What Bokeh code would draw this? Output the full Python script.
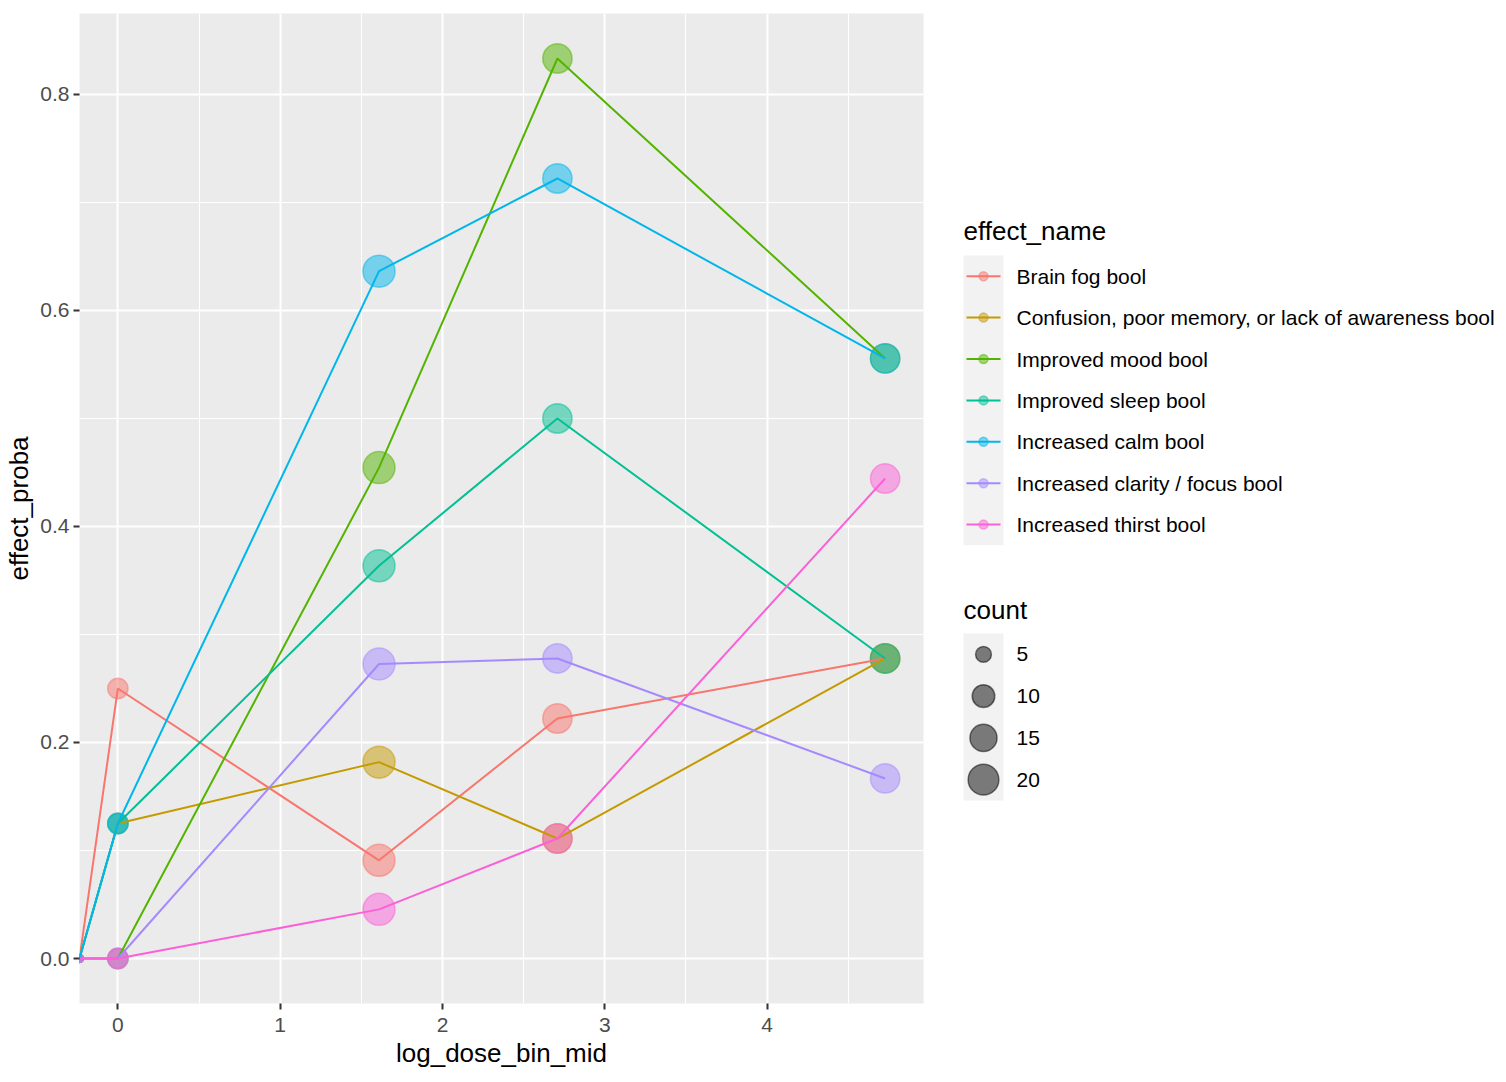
import numpy as np
from bokeh.plotting import figure
from bokeh.models import Range1d, FixedTicker, NumeralTickFormatter
from bokeh.layouts import row
from bokeh.embed import file_html
from bokeh.resources import INLINE
from bokeh.core.properties import value

# ---------------- data ----------------
log_dose_bin_mid = [float("-inf"), 0.0, 1.609, 2.708, 4.727]
bin_count = [3, 8, 22, 18, 18]

effect_names = [
    "Brain fog bool",
    "Confusion, poor memory, or lack of awareness bool",
    "Improved mood bool",
    "Improved sleep bool",
    "Increased calm bool",
    "Increased clarity / focus bool",
    "Increased thirst bool",
]
brain_fog = [0.0, 0.25, 0.0909, 0.2222, 0.2778]
confusion = [0.0, 0.125, 0.1818, 0.1111, 0.2778]
improved_mood = [0.0, 0.0, 0.4545, 0.8333, 0.5556]
improved_sleep = [0.0, 0.125, 0.3636, 0.5, 0.2778]
increased_calm = [0.0, 0.125, 0.6364, 0.7222, 0.5556]
increased_clarity = [0.0, 0.0, 0.2727, 0.2778, 0.1667]
increased_thirst = [0.0, 0.0, 0.0455, 0.1111, 0.4444]

effect_colors = ["#F8766D", "#C49A00", "#53B400", "#00C094", "#00B6EB", "#A58AFF", "#FB61D7"]

x_ticks = [0, 1, 2, 3, 4]
x_tick_labels = ["0", "1", "2", "3", "4"]
y_ticks = [0.0, 0.2, 0.4, 0.6, 0.8]
y_tick_labels = ["0.0", "0.2", "0.4", "0.6", "0.8"]
size_breaks = [5, 10, 15, 20]
size_break_labels = ["5", "10", "15", "20"]

series = [brain_fog, confusion, improved_mood, improved_sleep,
          increased_calm, increased_clarity, increased_thirst]

FONT = "Liberation Sans"

# ---------------- scales ----------------
finite_x = [v for v in log_dose_bin_mid if np.isfinite(v)]
x_lo, x_hi = min(finite_x), max(finite_x)
x_start = x_lo - 0.05 * (x_hi - x_lo)
x_end = x_hi + 0.05 * (x_hi - x_lo)
all_y = [v for s in series for v in s]
y_lo, y_hi = min(all_y), max(all_y)
y_start = y_lo - 0.05 * (y_hi - y_lo)
y_end = y_hi + 0.05 * (y_hi - y_lo)


def plot_x(v):
    # -Inf (log of zero dose) is drawn at the panel edge, as ggplot does
    return x_start if not np.isfinite(v) else v


c_min, c_max = min(bin_count), max(bin_count)


def diam(c):
    return 8 + 24 * np.sqrt((c - c_min) / (c_max - c_min))


def minor_between(ticks, lo, hi):
    step = ticks[1] - ticks[0]
    cands = [ticks[0] - step / 2] + [t + step / 2 for t in ticks]
    return [m for m in cands if lo <= m <= hi]


# ---------------- main panel ----------------
TOP, BOTTOM_BORDER, H = 13, 77, 1080
p = figure(width=935, height=H,
           x_range=Range1d(x_start, x_end), y_range=Range1d(y_start, y_end),
           output_backend="svg", toolbar_location=None,
           min_border_left=79, min_border_right=12,
           min_border_top=TOP, min_border_bottom=BOTTOM_BORDER,
           background_fill_color="#EBEBEB", border_fill_color="white",
           outline_line_color=None)

p.xaxis.ticker = FixedTicker(ticks=x_ticks, minor_ticks=minor_between(x_ticks, x_start, x_end))
p.yaxis.ticker = FixedTicker(ticks=y_ticks, minor_ticks=minor_between(y_ticks, y_start, y_end))
p.xaxis.major_label_overrides = {float(t): l for t, l in zip(x_ticks, x_tick_labels)}
p.yaxis.formatter = NumeralTickFormatter(format="0.0")
p.yaxis.major_label_overrides = {t: l for t, l in zip(y_ticks, y_tick_labels)}

for g in (p.xgrid, p.ygrid):
    g.grid_line_color = "white"
    g.grid_line_width = 2
    g.minor_grid_line_color = "white"
    g.minor_grid_line_width = 1

for ax in (p.xaxis, p.yaxis):
    ax.axis_line_color = None
    ax.major_tick_line_color = "#333333"
    ax.major_tick_line_width = 2
    ax.major_tick_in = 0
    ax.major_tick_out = 6
    ax.minor_tick_line_color = None
    ax.major_label_text_color = "#4D4D4D"
    ax.major_label_text_font = FONT
    ax.major_label_text_font_size = "21px"
    ax.major_label_standoff = 4
    ax.axis_label_text_font = FONT
    ax.axis_label_text_font_size = "26px"
    ax.axis_label_text_font_style = "normal"
    ax.axis_label_text_color = "black"
    ax.axis_label_standoff = 3

p.xaxis.major_label_standoff = 8

p.xaxis.axis_label = "log_dose_bin_mid"
p.yaxis.axis_label = "effect_proba"

xs = [plot_x(v) for v in log_dose_bin_mid]
sizes = [diam(c) for c in bin_count]

# points layer first
for vals, col in zip(series, effect_colors):
    p.scatter(xs, vals, size=sizes, fill_color=col, fill_alpha=0.5,
              line_color=col, line_alpha=0.5, line_width=1.5)
# lines layer on top
for vals, col in zip(series, effect_colors):
    p.line(xs, vals, line_color=col, line_width=2)

# ---------------- legend panel ----------------
# the row aligns this figure's frame with the main panel's frame, so map
# the frame onto page pixel coordinates (y grows downward)
LW = 569
lg = figure(width=LW, height=H, x_range=Range1d(0, LW),
            y_range=Range1d(H - BOTTOM_BORDER, TOP),
            output_backend="svg", toolbar_location=None, min_border=0,
            min_border_top=TOP, min_border_bottom=BOTTOM_BORDER,
            x_axis_type=None, y_axis_type=None, outline_line_color=None,
            background_fill_color="white", border_fill_color="white")

key_l, key_r = 28, 68
key_cx = 48
label_x = 81
key_h = 41.4

# colour legend
lg.text(x=[28], y=[230], text=["effect_name"], text_font=value(FONT),
        text_font_size=value("26px"), text_baseline="middle", text_align="left",
        text_color="black")
c_top = 255
n = len(effect_names)
lg.quad(left=[key_l], right=[key_r], top=[c_top], bottom=[c_top + key_h * n],
        fill_color="#F2F2F2", line_color=None)
key_ys = [c_top + key_h * (i + 0.5) for i in range(n)]
for ky, col in zip(key_ys, effect_colors):
    lg.segment(x0=[31], y0=[ky], x1=[65], y1=[ky], line_color=col, line_width=2)
    lg.scatter([key_cx], [ky], size=9, fill_color=col, fill_alpha=0.5,
               line_color=col, line_alpha=0.5, line_width=1.5)
lg.text(x=[label_x] * n, y=key_ys, text=effect_names, text_font=value(FONT),
        text_font_size=value("21px"), text_baseline="middle", text_align="left",
        text_color="black")

# size legend
lg.text(x=[28], y=[609], text=["count"], text_font=value(FONT),
        text_font_size=value("26px"), text_baseline="middle", text_align="left",
        text_color="black")
s_top = 633
s_h = 41.75
m = len(size_breaks)
lg.quad(left=[key_l], right=[key_r], top=[s_top], bottom=[s_top + s_h * m],
        fill_color="#F2F2F2", line_color=None)
s_ys = [s_top + s_h * (i + 0.5) for i in range(m)]
lg.scatter([key_cx] * m, s_ys, size=[diam(c) for c in size_breaks],
           fill_color="black", fill_alpha=0.5, line_color="black", line_alpha=0.5,
           line_width=1.5)
lg.text(x=[label_x] * m, y=s_ys, text=size_break_labels, text_font=value(FONT),
        text_font_size=value("21px"), text_baseline="middle", text_align="left",
        text_color="black")

layout = row(p, lg)
open("out.html", "w").write(file_html(layout, INLINE))
